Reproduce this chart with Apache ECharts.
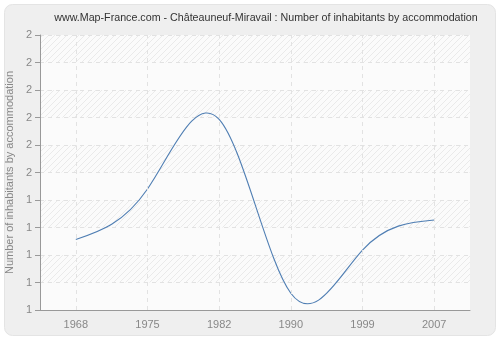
<!DOCTYPE html>
<html><head><meta charset="utf-8">
<script src="https://cdn.jsdelivr.net/npm/echarts@6/dist/echarts.min.js"></script>
<style>html,body{margin:0;padding:0;background:#fff}#c{width:500px;height:340px}</style>
</head><body><div id="c"></div>
<script>
var years = ['1968','1975','1982','1990','1999','2007'];
var values = [1.256, 1.44, 1.693, 1.061, 1.218, 1.327];
var yTicks = {min: 1, max: 2, interval: 0.1};
var titleText = 'www.Map-France.com - Châteauneuf-Miravail : Number of inhabitants by accommodation';
var yName = 'Number of inhabitants by accommodation';
var FONT = 'Liberation Sans';

function hatch() {
  var c = document.createElement('canvas');
  c.width = 6; c.height = 6;
  var g = c.getContext('2d');
  g.fillStyle = '#fbfbfb'; g.fillRect(0,0,6,6);
  g.strokeStyle = '#eaeaea'; g.lineWidth = 1;
  g.beginPath();
  g.moveTo(0,6); g.lineTo(6,0);
  g.moveTo(-3,3); g.lineTo(3,-3);
  g.moveTo(3,9); g.lineTo(9,3);
  g.stroke();
  return c;
}
var pat = {image: hatch(), repeat: 'repeat'};

// natural cubic spline through pixel points
function splinePath(pts) {
  var n = pts.length;
  if (n < 2) return '';
  var h = [], i;
  for (i = 0; i < n - 1; i++) h.push(pts[i+1][0] - pts[i][0]);
  var a = [], b = [], c = [], d = [];
  for (i = 0; i < n; i++) {
    if (i === 0 || i === n - 1) { a[i] = 0; b[i] = 1; c[i] = 0; d[i] = 0; continue; }
    a[i] = h[i-1]; b[i] = 2 * (h[i-1] + h[i]); c[i] = h[i];
    d[i] = 6 * ((pts[i+1][1] - pts[i][1]) / h[i] - (pts[i][1] - pts[i-1][1]) / h[i-1]);
  }
  for (i = 1; i < n; i++) {
    var w = a[i] / b[i-1];
    b[i] -= w * c[i-1]; d[i] -= w * d[i-1];
  }
  var M = [];
  M[n-1] = d[n-1] / b[n-1];
  for (i = n - 2; i >= 0; i--) M[i] = (d[i] - c[i] * M[i+1]) / b[i];
  var s = 'M' + pts[0][0] + ' ' + pts[0][1];
  for (i = 0; i < n - 1; i++) {
    var hh = h[i];
    var sec = (pts[i+1][1] - pts[i][1]) / hh;
    var m0 = sec - hh * (2 * M[i] + M[i+1]) / 6;
    var m1 = sec + hh * (M[i] + 2 * M[i+1]) / 6;
    s += ' C' + (pts[i][0] + hh/3) + ' ' + (pts[i][1] + m0*hh/3) + ' ' +
         (pts[i+1][0] - hh/3) + ' ' + (pts[i+1][1] - m1*hh/3) + ' ' +
         pts[i+1][0] + ' ' + pts[i+1][1];
  }
  return s;
}

var seriesData = years.map(function (y, i) { return [i, values[i]]; });

var chart = echarts.init(document.getElementById('c'), null, {renderer: 'canvas'});
chart.setOption({
  backgroundColor: '#ffffff',
  animation: false,
  graphic: [{
    type: 'rect', z: -10, silent: true,
    shape: {x: 4.5, y: 4.5, width: 491, height: 331, r: 8},
    style: {fill: '#efefef', stroke: '#e4e4e4', lineWidth: 1}
  }, {
    type: 'text', silent: true, x: 266, y: 18,
    style: {text: titleText, x: 0, y: 0, align: 'center', verticalAlign: 'middle',
      font: '10.7px "' + FONT + '"', fill: '#333'}
  }],
  grid: {left: 40, right: 30, top: 35, bottom: 30, show: true, backgroundColor: '#fbfbfb',
    borderWidth: 0, outerBoundsMode: 'none', containLabel: false},
  xAxis: {
    type: 'category', data: years, boundaryGap: true,
    axisLine: {lineStyle: {color: '#999'}},
    axisTick: {alignWithLabel: true, length: 5, lineStyle: {color: '#999'}},
    axisLabel: {color: '#888', fontFamily: FONT, fontSize: 11, margin: 9},
    splitLine: {show: false}
  },
  yAxis: {
    type: 'value', min: yTicks.min, max: yTicks.max, interval: yTicks.interval,
    name: yName, nameLocation: 'middle', nameGap: 22,
    nameTextStyle: {color: '#888', fontFamily: FONT, fontSize: 11},
    axisLine: {show: true, lineStyle: {color: '#999'}},
    axisTick: {show: true, length: 5, lineStyle: {color: '#999'}},
    axisLabel: {color: '#888', fontFamily: FONT, fontSize: 11, margin: 8,
      formatter: function (v) { return String(Math.round(v + 1e-9)); }},
    splitLine: {show: true, lineStyle: {color: '#e2e2e2', type: [4, 4]}},
    splitArea: {show: true, areaStyle: {color: ['#fbfbfb', pat]}}
  },
  series: [{
    type: 'line', data: seriesData, showSymbol: false, symbol: 'none',
    lineStyle: {opacity: 0}, silent: true,
    markLine: {
      silent: true, symbol: 'none', label: {show: false},
      lineStyle: {color: '#e2e2e2', type: [4, 4], width: 1},
      data: years.map(function (y) { return {xAxis: y}; })
    }
  }, {
    type: 'custom', data: seriesData, silent: true,
    renderItem: function (params, api) {
      if (params.dataIndex !== 0) return null;
      var pts = seriesData.map(function (d) { return api.coord(d); });
      return {
        type: 'path',
        shape: {pathData: splinePath(pts)},
        style: {fill: 'none', stroke: '#4f7eb3', lineWidth: 1.1}
      };
    }
  }]
});
</script></body></html>
